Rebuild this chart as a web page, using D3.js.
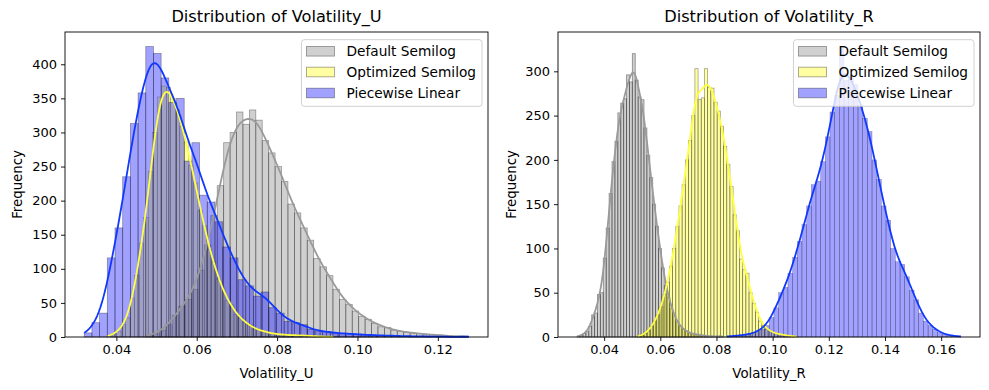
<!DOCTYPE html>
<html>
<head>
<meta charset="utf-8">
<script src="https://cdn.jsdelivr.net/npm/d3@7"></script>
<style>
  body { margin: 0; background: #fff; }
  svg { font-family: "DejaVu Sans", sans-serif; }
</style>
</head>
<body>
<svg id="chart" width="989" height="390"></svg>
<script>
// ---- data ----
const seriesNames = ["Default Semilog", "Optimized Semilog", "Piecewise Linear"];

// Volatility_U : 50 bins per series, from each series' min to max
const uDefaultRange = [0.0475, 0.1275];
const uDefaultCounts = [2, 5, 10, 18, 32, 45, 55, 70, 98, 135,
  178, 222, 285, 300, 330, 312, 333, 318, 288, 270,
  250, 228, 195, 182, 160, 142, 115, 103, 90, 70,
  55, 48, 38, 30, 26, 20, 15, 14, 10, 8,
  7, 6, 5, 4, 3, 3, 2, 1, 1, 1];
const uOptRange = [0.0378, 0.0940];
const uOptCounts = [2, 5, 8, 18, 28, 57, 90, 138, 175, 243,
  300, 352, 368, 366, 350, 333, 309, 286, 252, 226,
  186, 163, 128, 111, 85, 72, 53, 47, 33, 28,
  21, 18, 12, 11, 8, 7, 5, 4, 4, 3,
  3, 2, 3, 2, 2, 1, 1, 1, 0, 1];
const uPieceRange = [0.0320, 0.1277];
const uPieceCounts = [6, 21, 35, 116, 160, 235, 313, 358, 426, 416,
  380, 344, 350, 258, 285, 208, 198, 169, 132, 116,
  84, 75, 60, 66, 43, 35, 23, 21, 18, 11,
  9, 8, 6, 5, 5, 4, 3, 3, 2, 2,
  2, 1, 1, 1, 1, 0, 1, 0, 0, 1];

// Volatility_R
const rDefaultRange = [0.0304, 0.0821];
const rDefaultCounts = [1, 2, 4, 6, 12, 25, 27, 48, 50, 89,
  123, 162, 198, 221, 253, 264, 269, 296, 288, 320,
  290, 271, 268, 236, 205, 180, 150, 125, 100, 78,
  58, 45, 32, 24, 17, 12, 9, 7, 5, 4,
  3, 3, 2, 2, 1, 1, 1, 0, 1, 1];
const rOptRange = [0.0519, 0.1086];
const rOptCounts = [1, 2, 4, 7, 12, 18, 25, 34, 48, 62,
  80, 100, 125, 148, 172, 200, 222, 250, 303, 268,
  270, 303, 282, 281, 265, 255, 238, 215, 195, 170,
  138, 120, 88, 76, 72, 50, 38, 28, 18, 13,
  9, 7, 5, 4, 3, 3, 2, 1, 1, 1];
const rPieceRange = [0.0838, 0.1670];
const rPieceCounts = [1, 1, 2, 2, 3, 4, 6, 9, 13, 22,
  33, 50, 56, 72, 90, 108, 127, 148, 172, 176,
  198, 226, 254, 273, 328, 290, 295, 285, 262, 247,
  232, 200, 178, 148, 132, 100, 85, 82, 68, 53,
  42, 27, 18, 13, 9, 5, 3, 2, 1, 1];

const uXTicks = [0.04, 0.06, 0.08, 0.10, 0.12];
const rXTicks = [0.04, 0.06, 0.08, 0.10, 0.12, 0.14, 0.16];

// ---- styling ----
const colors = ["#808080", "#ffff00", "#0000ff"];
const lineColors = ["#9a9a9a", "#ffff40", "#1038ff"];
const barAlpha = 0.37;
const plotTop = 32, plotBottom = 337;

const panels = [
  { title: "Distribution of Volatility_U", xlabel: "Volatility_U", left: 65, right: 488,
    ranges: [uDefaultRange, uOptRange, uPieceRange],
    counts: [uDefaultCounts, uOptCounts, uPieceCounts],
    xTicks: uXTicks, edgeW: [0.77, 0.5, 0.77], ylabX: 17 },
  { title: "Distribution of Volatility_R", xlabel: "Volatility_R", left: 558, right: 980,
    ranges: [rDefaultRange, rOptRange, rPieceRange],
    counts: [rDefaultCounts, rOptCounts, rPieceCounts],
    xTicks: rXTicks, edgeW: [0.93, 0.8, 0.5], ylabX: 511 }
];

const svg = d3.select("#chart");

// KDE (gaussian, Scott's rule) computed from the binned counts, scaled to counts per bin
function kdeCurve(range, counts) {
  const n = counts.length, w = (range[1] - range[0]) / n;
  const mids = counts.map((c, i) => range[0] + (i + 0.5) * w);
  const N = d3.sum(counts);
  const mean = d3.sum(counts, (c, i) => c * mids[i]) / N;
  const v = d3.sum(counts, (c, i) => c * (mids[i] - mean) ** 2) / (N - 1);
  const h = Math.sqrt(v) * Math.pow(N, -0.2);
  const xs = d3.range(240).map(k => range[0] + k * (range[1] - range[0]) / 239);
  return xs.map(x => [x, w * d3.sum(counts, (c, i) => c * Math.exp(-0.5 * ((x - mids[i]) / h) ** 2)) / (h * Math.sqrt(2 * Math.PI))]);
}

panels.forEach(p => {
  const lo = d3.min(p.ranges, r => r[0]), hi = d3.max(p.ranges, r => r[1]);
  const pad = (hi - lo) * 0.05;
  const x = d3.scaleLinear().domain([lo - pad, hi + pad]).range([p.left, p.right]);
  const ymax = d3.max(p.counts, c => d3.max(c)) * 1.05;
  const y = d3.scaleLinear().domain([0, ymax]).range([plotBottom, plotTop]);

  const g = svg.append("g");

  // bars
  p.counts.forEach((counts, s) => {
    const r = p.ranges[s], w = (r[1] - r[0]) / counts.length;
    const bins = counts.map((c, i) => ({ x0: r[0] + i * w, x1: r[0] + (i + 1) * w, c }));
    g.append("g").selectAll("rect")
      .data(bins.filter(d => d.c > 0))
      .join("rect")
      .attr("x", d => x(d.x0))
      .attr("width", d => x(d.x1) - x(d.x0))
      .attr("y", d => y(d.c))
      .attr("height", d => y(0) - y(d.c))
      .attr("fill", colors[s]).attr("fill-opacity", barAlpha)
      .attr("stroke", "#000").attr("stroke-opacity", barAlpha)
      .attr("stroke-width", p.edgeW[s]);
  });

  // kde lines
  const line = d3.line().x(d => x(d[0])).y(d => y(d[1]));
  p.counts.forEach((counts, s) => {
    g.append("path")
      .attr("d", line(kdeCurve(p.ranges[s], counts)))
      .attr("fill", "none")
      .attr("stroke", lineColors[s])
      .attr("stroke-width", 1.8)
      .attr("stroke-linejoin", "round");
  });

  // axes
  const xAxis = d3.axisBottom(x).tickValues(p.xTicks).tickFormat(d3.format(".2f")).tickSize(4).tickPadding(4);
  const yAxis = d3.axisLeft(y).ticks(10).tickFormat(d3.format("d")).tickSize(4).tickPadding(4);
  const gx = g.append("g").attr("transform", `translate(0,${plotBottom})`).call(xAxis);
  const gy = g.append("g").attr("transform", `translate(${p.left},0)`).call(yAxis);
  [gx, gy].forEach(a => {
    a.select(".domain").remove();
    a.selectAll("text").attr("font-size", 13).attr("fill", "#000").attr("font-family", "DejaVu Sans");
    a.selectAll("line").attr("stroke", "#000").attr("stroke-width", 0.9);
  });

  // frame
  g.append("rect")
    .attr("x", p.left).attr("y", plotTop)
    .attr("width", p.right - p.left).attr("height", plotBottom - plotTop)
    .attr("fill", "none").attr("stroke", "#000").attr("stroke-width", 0.9);

  // titles and labels
  const cx = (p.left + p.right) / 2;
  g.append("text").attr("x", cx).attr("y", 22).attr("text-anchor", "middle")
    .attr("font-size", 16.2).text(p.title);
  g.append("text").attr("x", cx).attr("y", 378).attr("text-anchor", "middle")
    .attr("font-size", 13.3).text(p.xlabel);
  g.append("text").attr("transform", `translate(${p.ylabX},${(plotTop + plotBottom) / 2}) rotate(-90)`)
    .attr("text-anchor", "middle").attr("dy", "0.35em")
    .attr("font-size", 13.3).text("Frequency");

  // legend
  const lg = g.append("g");
  const frame = lg.append("rect");
  const rowY = [51.3, 72, 93];
  const texts = seriesNames.map((name, s) =>
    lg.append("text").attr("y", rowY[s]).attr("dy", "0.35em").attr("font-size", 13.7).text(name));
  const tw = d3.max(texts, t => t.node().getComputedTextLength());
  const lw = 45 + tw + 6;
  const lx = p.right - 6 - lw;
  frame.attr("x", lx).attr("y", 39.7).attr("width", lw).attr("height", 66.6)
    .attr("rx", 3).attr("fill", "#fff").attr("fill-opacity", 0.8)
    .attr("stroke", "#ccc").attr("stroke-width", 0.9);
  texts.forEach(t => t.attr("x", lx + 45));
  seriesNames.forEach((name, s) => {
    lg.append("rect").attr("x", lx + 5).attr("y", rowY[s] - 4.8).attr("width", 28).attr("height", 9.6)
      .attr("fill", colors[s]).attr("fill-opacity", barAlpha)
      .attr("stroke", "#000").attr("stroke-opacity", barAlpha).attr("stroke-width", 0.9);
  });
});
</script>
</body>
</html>
